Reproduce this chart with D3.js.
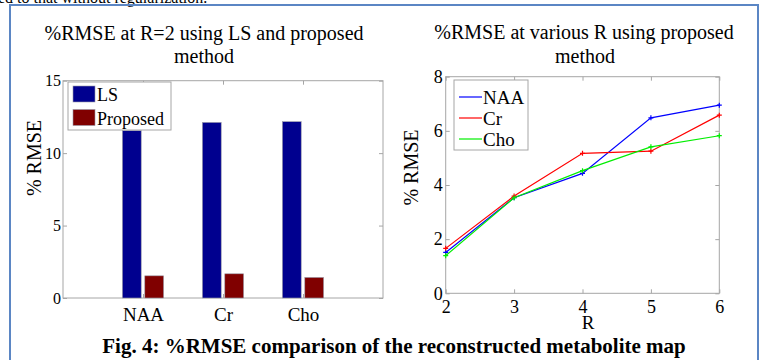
<!DOCTYPE html>
<html><head><meta charset="utf-8">
<script src="https://cdn.jsdelivr.net/npm/d3@7"></script>
<style>
html,body{margin:0;padding:0;background:#fff;}
svg{display:block;}
text{font-family:"Liberation Serif","Times New Roman",serif;fill:#000;}
</style></head>
<body>
<script>
// ---- data ----
const categories = ["NAA", "Cr", "Cho"];
const lsValues = [11.55, 12.12, 12.17];
const proposedValues = [1.53, 1.67, 1.42];
const barTicks = [0, 5, 10, 15];
const barSeriesNames = ["LS", "Proposed"];

const rValues = [2, 3, 4, 5, 6];
const naaValues = [1.51, 3.53, 4.43, 6.48, 6.95];
const crValues = [1.66, 3.59, 5.17, 5.25, 6.58];
const choValues = [1.39, 3.53, 4.53, 5.41, 5.82];
const lineTicksY = [0, 2, 4, 6, 8];
const lineSeriesNames = ["NAA", "Cr", "Cho"];

const W = 764, H = 360;
const axisColor = "#a6a6a6";
const SERIF = "'Liberation Serif','Times New Roman',serif";
const svg = d3.select("body").append("svg").attr("width", W).attr("height", H);
svg.append("rect").attr("width", W).attr("height", H).attr("fill", "#fff");

// top cut-off text
svg.append("text").attr("x", -2).attr("y", 3).attr("font-size", 16)
  .text("ed to that without regularization.");

// outer frame
svg.append("path").attr("d", `M10,372 V5 H758 V372`).attr("fill", "none")
  .attr("stroke", "#5b86c4").attr("stroke-width", 2);

function styleAxis(g) {
  g.attr("font-family", null);
  g.select(".domain").remove();
  g.selectAll(".tick line").attr("stroke", axisColor);
}
function styleText(size) {
  return g => g.selectAll("text").style("font-family", SERIF).attr("font-size", size).attr("fill", "#000");
}

// ================= LEFT: bar chart =================
const L = {x0: 63, x1: 383, y0: 80.7, y1: 298};
const xb = d3.scaleLinear().domain([0, 4]).range([L.x0, L.x1]);
const yb = d3.scaleLinear().domain([0, 15]).range([L.y1, L.y0]);
const gL = svg.append("g");

gL.append("rect").attr("x", L.x0).attr("y", L.y0).attr("width", L.x1 - L.x0).attr("height", L.y1 - L.y0)
  .attr("fill", "#fff").attr("stroke", axisColor);

const barColors = ["#00008f", "#800000"];
const barW = 0.235, off = 0.14;
[lsValues, proposedValues].forEach((vals, s) => {
  gL.selectAll(null).data(vals).enter().append("rect")
    .attr("x", (d, i) => xb(i + 1 + (s === 0 ? -off : off) - barW / 2))
    .attr("width", xb(barW) - xb(0))
    .attr("y", d => yb(d))
    .attr("height", d => yb(0) - yb(d))
    .attr("fill", barColors[s]).attr("stroke", "#9a9aa8").attr("stroke-width", 0.6);
});

const catTicks = categories.map((c, i) => i + 1);
gL.append("g").attr("transform", `translate(0,${L.y1})`)
  .call(d3.axisBottom(xb).tickValues(catTicks).tickSize(-4).tickPadding(10).tickFormat((d) => categories[d - 1]))
  .call(styleAxis).call(styleText(19));
gL.append("g").attr("transform", `translate(0,${L.y0})`)
  .call(d3.axisTop(xb).tickValues(catTicks).tickSize(-4).tickFormat(""))
  .call(styleAxis);
gL.append("g").attr("transform", `translate(${L.x0},0)`)
  .call(d3.axisLeft(yb).tickValues(barTicks).tickSize(-4).tickPadding(2))
  .call(styleAxis).call(styleText(16));
gL.append("g").attr("transform", `translate(${L.x1},0)`)
  .call(d3.axisRight(yb).tickValues(barTicks).tickSize(-4).tickFormat(""))
  .call(styleAxis);

// legend
const lg = gL.append("g");
lg.append("rect").attr("x", 68).attr("y", 82).attr("width", 103).attr("height", 48)
  .attr("fill", "#fff").attr("stroke", axisColor);
barSeriesNames.forEach((n, i) => {
  lg.append("rect").attr("x", 73).attr("y", 86 + i * 23.5).attr("width", 22).attr("height", 16)
    .attr("fill", barColors[i]).attr("stroke", "#9a9aa8").attr("stroke-width", 0.6);
  lg.append("text").attr("x", 97).attr("y", 101 + i * 23.5).attr("font-size", 18).text(n);
});

// titles & labels
const titleL = gL.append("text").attr("text-anchor", "middle").attr("font-size", 20);
titleL.append("tspan").attr("x", 204).attr("y", 39.5).text("%RMSE at R=2 using LS and proposed");
titleL.append("tspan").attr("x", 204).attr("y", 63).text("method");
gL.append("text").attr("transform", "translate(41,158) rotate(-90)").attr("text-anchor", "middle")
  .attr("font-size", 20).text("% RMSE");

// ================= RIGHT: line chart =================
const R = {x0: 445.7, x1: 719.3, y0: 76.7, y1: 293.3};
const xl = d3.scaleLinear().domain([2, 6]).range([R.x0, R.x1]);
const yl = d3.scaleLinear().domain([0, 8]).range([R.y1, R.y0]);
const gR = svg.append("g");
gR.append("rect").attr("x", R.x0).attr("y", R.y0).attr("width", R.x1 - R.x0).attr("height", R.y1 - R.y0)
  .attr("fill", "#fff").attr("stroke", axisColor);

gR.append("g").attr("transform", `translate(0,${R.y1})`)
  .call(d3.axisBottom(xl).tickValues(rValues).tickSize(-4).tickPadding(7).tickFormat(d3.format("d")))
  .call(styleAxis).call(styleText(18));
gR.append("g").attr("transform", `translate(0,${R.y0})`)
  .call(d3.axisTop(xl).tickValues(rValues).tickSize(-4).tickFormat(""))
  .call(styleAxis);
gR.append("g").attr("transform", `translate(${R.x0},0)`)
  .call(d3.axisLeft(yl).tickValues(lineTicksY).tickSize(-4).tickPadding(3))
  .call(styleAxis).call(styleText(18));
gR.append("g").attr("transform", `translate(${R.x1},0)`)
  .call(d3.axisRight(yl).tickValues(lineTicksY).tickSize(-4).tickFormat(""))
  .call(styleAxis);

const lineColors = ["#0000ff", "#ff0000", "#00ee00"];
const line = d3.line().x((d, i) => xl(rValues[i])).y(d => yl(d));
[naaValues, crValues, choValues].forEach((vals, s) => {
  gR.append("path").datum(vals).attr("d", line).attr("fill", "none")
    .attr("stroke", lineColors[s]).attr("stroke-width", 1.2);
  gR.selectAll(null).data(vals).enter().append("path")
    .attr("d", (d, i) => { const x = xl(rValues[i]), y = yl(d); return `M${x - 2.5},${y}H${x + 2.5}M${x},${y - 2.5}V${y + 2.5}`; })
    .attr("stroke", lineColors[s]).attr("stroke-width", 1.2);
});

// legend
const lr = gR.append("g");
lr.append("rect").attr("x", 454).attr("y", 80).attr("width", 74).attr("height", 70)
  .attr("fill", "#fff").attr("stroke", axisColor);
lineSeriesNames.forEach((n, i) => {
  const y = 97 + i * 21;
  lr.append("line").attr("x1", 459).attr("x2", 482).attr("y1", y).attr("y2", y)
    .attr("stroke", lineColors[i]).attr("stroke-width", 1.2);
  lr.append("text").attr("x", 483).attr("y", y + 6.5).attr("font-size", 19).text(n);
});

const titleR = gR.append("text").attr("text-anchor", "middle").attr("font-size", 20);
titleR.append("tspan").attr("x", 584).attr("y", 39).text("%RMSE at various R using proposed");
titleR.append("tspan").attr("x", 585).attr("y", 62.7).text("method");
gR.append("text").attr("transform", "translate(418,167.5) rotate(-90)").attr("text-anchor", "middle")
  .attr("font-size", 20).text("% RMSE");
gR.append("text").attr("x", 588).attr("y", 329).attr("text-anchor", "middle").attr("font-size", 19).text("R");

// caption
svg.append("text").attr("x", 394).attr("y", 353).attr("text-anchor", "middle")
  .attr("font-size", 21).attr("font-weight", "bold")
  .text("Fig. 4: %RMSE comparison of the reconstructed metabolite map");
</script>
</body></html>
